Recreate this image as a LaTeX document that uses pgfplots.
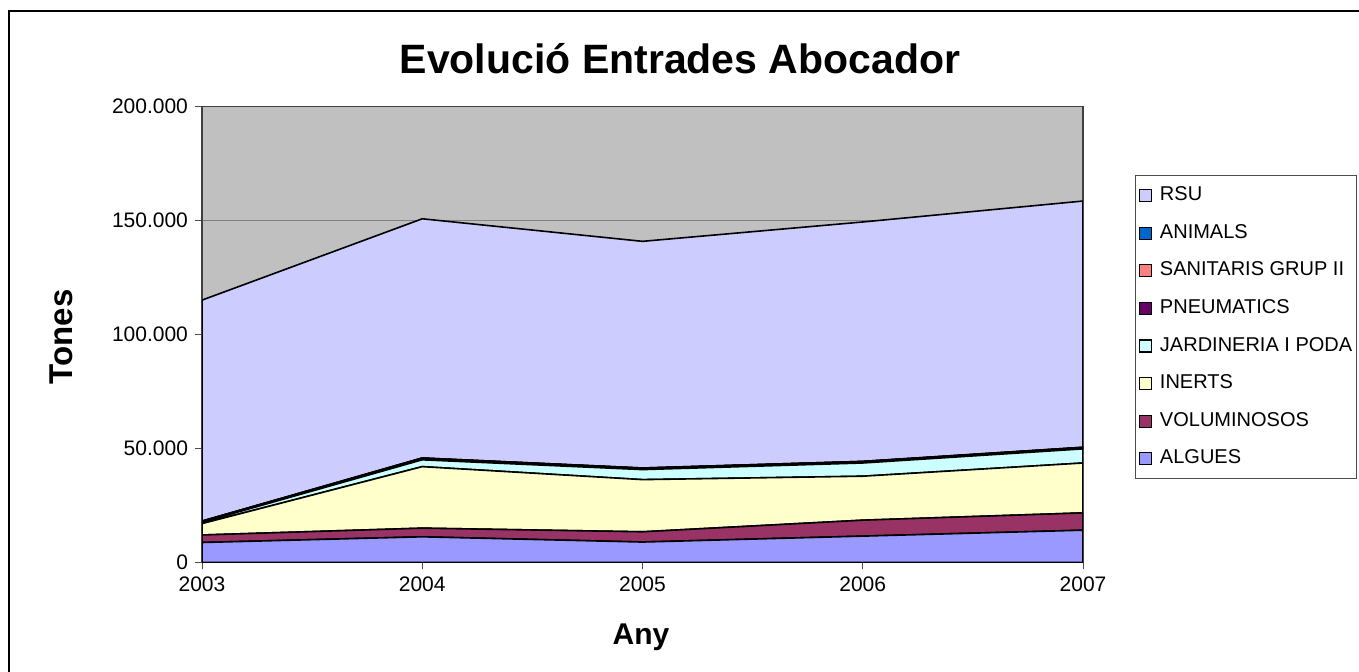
\documentclass[border=0pt]{standalone}
\usepackage{fontspec}
\setmainfont{Liberation Sans}
\usepackage{pgfplots}
\pgfplotsset{compat=1.18}
\definecolor{cALG}{HTML}{9999FF}
\definecolor{cVOL}{HTML}{993366}
\definecolor{cINE}{HTML}{FFFFCC}
\definecolor{cJAR}{HTML}{CCFFFF}
\definecolor{cPNE}{HTML}{660066}
\definecolor{cSAN}{HTML}{FF8080}
\definecolor{cANI}{HTML}{0066CC}
\definecolor{cRSU}{HTML}{CCCCFF}
\definecolor{cBG}{HTML}{C0C0C0}
\definecolor{cGRID}{HTML}{808080}
\begin{document}
\begin{tikzpicture}
\path[use as bounding box] (0pt,0pt) rectangle (679.5pt,-335.5pt);
\draw[line width=1.1pt] (4.5pt,-340pt) -- (4.5pt,-5.5pt) -- (685pt,-5.5pt);
\node[font=\bfseries\fontsize{20.5}{24}\selectfont] at (340pt,-29.5pt) {Evolució Entrades Abocador};
\node[font=\bfseries\fontsize{15}{18}\selectfont] at (320.5pt,-318.5pt) {Any};
\node[font=\bfseries\fontsize{16.5}{19}\selectfont, rotate=90] at (30.5pt,-168.5pt) {Tones};
\begin{axis}[
  at={(101pt,-281.15pt)}, anchor=south west,
  scale only axis, width=440.5pt, height=227.8pt,
  xmin=2003, xmax=2007, ymin=0, ymax=200000,
  xtick={2003,2004,2005,2006,2007},
  xticklabels={2003,2004,2005,2006,2007},
  ytick={0,50000,100000,150000,200000},
  scaled y ticks=false,
  yticklabel style={/pgf/number format/.cd, fixed, 1000 sep={.}},
  /pgf/number format/assume math mode=true,
  ticklabel style={font=\fontsize{10.5}{12}\selectfont},
  tick align=outside, major tick length=3.5pt,
  tick style={black!70, line width=0.5pt},
  xtick pos=bottom, ytick pos=left,
  ymajorgrids, major grid style={cGRID, line width=0.6pt},
  axis background/.style={fill=cBG},
  axis line style={black!75, line width=0.6pt},
  stack plots=y,
  every axis plot/.append style={draw=black, line width=0.8pt},
  reverse legend,
  legend cell align=left,
  legend image code/.code={\draw[#1, draw=black, line width=0.6pt] (0pt,-3pt) rectangle (6pt,3pt); \path (9.5pt,0pt);},
  legend style={at={(1.059,0.85)}, anchor=north west, draw=black!70, line width=0.6pt,
    font=\fontsize{10}{12}\selectfont, row sep=7.8pt, inner xsep=1.5pt, inner ysep=4.5pt,
    nodes={inner xsep=0.5pt, inner ysep=1pt, text height=7pt, text depth=2pt}},
]
\addplot[fill=cALG] coordinates {(2003,8700) (2004,11200) (2005,8900) (2006,11500) (2007,14100)} \closedcycle;
\addlegendentry{ALGUES}
\addplot[fill=cVOL] coordinates {(2003,3300) (2004,3800) (2005,4500) (2006,7000) (2007,7600)} \closedcycle;
\addlegendentry{VOLUMINOSOS}
\addplot[fill=cINE] coordinates {(2003,5000) (2004,27000) (2005,22900) (2006,19300) (2007,21900)} \closedcycle;
\addlegendentry{INERTS}
\addplot[fill=cJAR] coordinates {(2003,600) (2004,3000) (2005,4400) (2006,5800) (2007,6200)} \closedcycle;
\addlegendentry{JARDINERIA I PODA}
\addplot[fill=cPNE] coordinates {(2003,300) (2004,600) (2005,500) (2006,500) (2007,500)} \closedcycle;
\addlegendentry{PNEUMATICS}
\addplot[fill=cSAN] coordinates {(2003,100) (2004,100) (2005,100) (2006,100) (2007,100)} \closedcycle;
\addlegendentry{SANITARIS GRUP II}
\addplot[fill=cANI] coordinates {(2003,100) (2004,100) (2005,100) (2006,100) (2007,100)} \closedcycle;
\addlegendentry{ANIMALS}
\addplot[fill=cRSU] coordinates {(2003,97000) (2004,105000) (2005,99500) (2006,105100) (2007,108100)} \closedcycle;
\addlegendentry{RSU}
\end{axis}
\end{tikzpicture}
\end{document}
